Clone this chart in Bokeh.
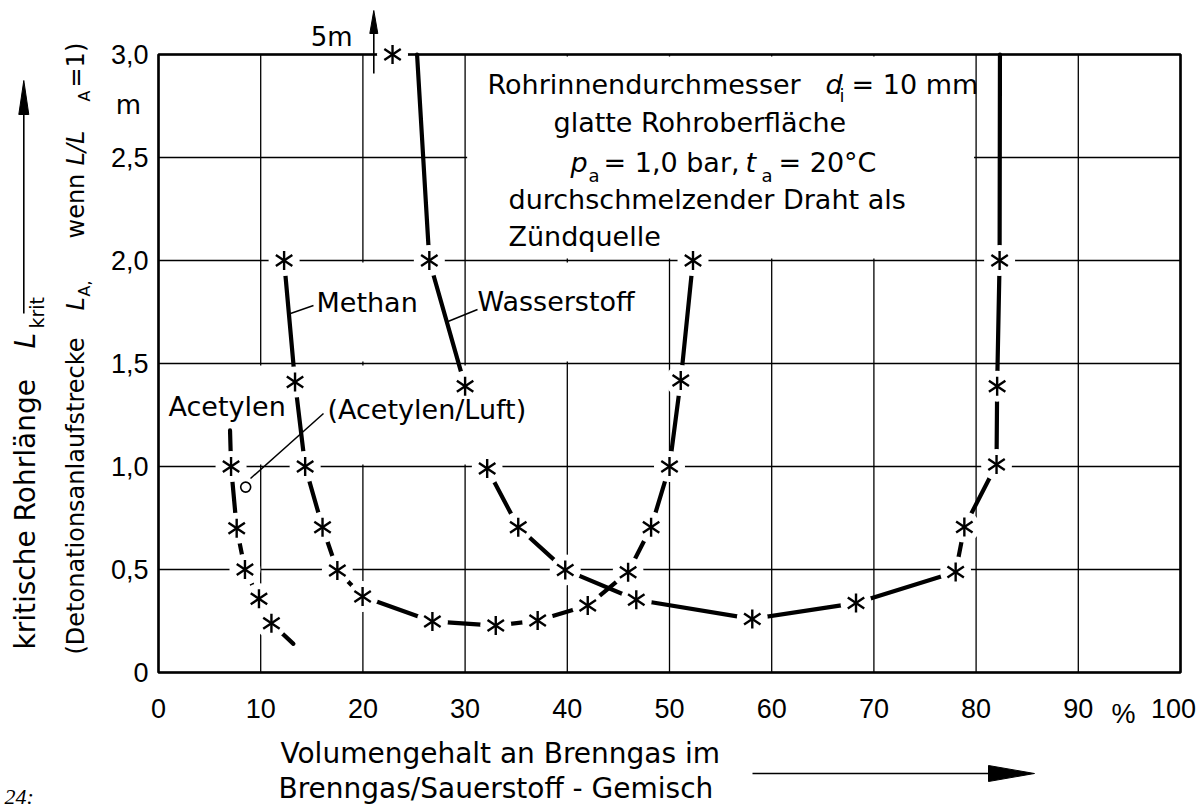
import numpy as np
from bokeh.plotting import figure
from bokeh.models import Range1d
from bokeh.embed import file_html
from bokeh.resources import INLINE

# ---------------- data ----------------
x_ticks = [0, 10, 20, 30, 40, 50, 60, 70, 80, 90, 100]
x_tick_labels = ["0", "10", "20", "30", "40", "50", "60", "70", "80", "90", "100"]
y_ticks = [0, 0.5, 1.0, 1.5, 2.0, 2.5, 3.0]
y_tick_labels = ["0", "0,5", "1,0", "1,5", "2,0", "2,5", "3,0"]

acetylen_x = [7.0, 7.1, 7.65, 8.46, 9.83, 11.05, 13.2]
acetylen_y = [1.175, 1.0, 0.70, 0.50, 0.358, 0.239, 0.139]
acetylen_star = [False, True, True, True, True, True, False]

acetylen_luft_x = [8.53]
acetylen_luft_y = [0.90]

methan_x = [12.29, 13.36, 14.35, 16.05, 17.5, 19.97, 26.8, 33.0, 37.1, 42.0, 45.95, 48.2, 50.0, 51.1, 52.3]
methan_y = [2.0, 1.41, 1.0, 0.705, 0.495, 0.369, 0.248, 0.228, 0.252, 0.325, 0.487, 0.705, 1.0, 1.417, 2.0]
methan_star = [True] * len(methan_x)

wasserstoff_x = [22.9, 26.5, 30.0, 32.16, 35.2, 39.8, 46.75, 58.1, 68.25, 78.0, 78.85, 82.0, 82.06, 82.3, 82.4]
wasserstoff_y = [5.0, 2.0, 1.39, 0.99, 0.705, 0.498, 0.353, 0.26, 0.337, 0.488, 0.706, 1.01, 1.39, 2.0, 5.0]
wasserstoff_star = [True] * 14 + [False]
wasserstoff_no_line_after = [2]

# ---------------- layout ----------------
W, H = 1199, 810
XMIN, XMAX, YMIN, YMAX = 0, 100, 0, 3.0
# chart frame position on the page (pixels)
PX0, PX1, PY0, PY1 = 158, 1180, 672, 54
FONT = "DejaVu Sans"
TICK_FONT = "Liberation Sans"
BASE_FIX = 0.39  # measured offset of the rendered alphabetic baseline (fraction of size)


def dx(px):
    return XMIN + (px - PX0) * (XMAX - XMIN) / (PX1 - PX0)


def dy(py):
    return YMIN + (PY0 - py) * (YMAX - YMIN) / (PY0 - PY1)


p = figure(width=W, height=H, x_range=Range1d(dx(0), dx(W)), y_range=Range1d(dy(H), dy(0)),
           output_backend="svg", toolbar_location=None, title=None,
           x_axis_location=None, y_axis_location=None,
           min_border=0, min_border_left=0, min_border_right=0,
           min_border_top=0, min_border_bottom=0)
p.background_fill_color = "white"
p.border_fill_color = "white"
p.outline_line_color = None
p.grid.visible = False

# grid from the tick arrays
p.segment(x0=x_ticks, y0=[YMIN] * len(x_ticks), x1=x_ticks, y1=[YMAX] * len(x_ticks),
          line_color="black", line_width=1.3)
p.segment(x0=[XMIN] * len(y_ticks), y0=y_ticks, x1=[XMAX] * len(y_ticks), y1=y_ticks,
          line_color="black", line_width=1.3)
# frame
p.quad(left=[XMIN], right=[XMAX], bottom=[YMIN], top=[YMAX], fill_color=None,
       line_color="black", line_width=2.6)

# white masks (text box, label cells)
ex, ey = 0.2, 0.01
masks = [(30, 80, 2.0, 3.0), (0, 40, 1.0, 1.5), (10, 30, 1.5, 2.0), (30, 50, 1.5, 2.0)]
p.quad(left=[m[0] + ex for m in masks], right=[m[1] - ex for m in masks],
       bottom=[m[2] + ey for m in masks], top=[m[3] - ey for m in masks],
       fill_color="white", line_color=None)

# tick labels
x_label_shift = [0] * (len(x_ticks) - 1) + [-7]   # keep the last label inside the page
p.text(x=x_ticks, y=[dy(698)] * len(x_ticks), text=x_tick_labels, x_offset=x_label_shift,
       text_align="center", text_baseline="top", text_font={"value": TICK_FONT},
       text_font_size={"value": "27px"}, text_color="black")
p.text(x=[dx(148)] * len(y_ticks), y=y_ticks, text=y_tick_labels, text_align="right",
       text_baseline="middle", text_font={"value": TICK_FONT}, text_font_size={"value": "27px"},
       text_color="black")

series = [
    (acetylen_x, acetylen_y, acetylen_star, []),
    (methan_x, methan_y, methan_star, []),
    (wasserstoff_x, wasserstoff_y, wasserstoff_star, wasserstoff_no_line_after),
]


def clip_to_frame(xa, ya, xb, yb):
    """Cut a segment at the upper frame edge (values beyond the scale)."""
    if ya > YMAX and yb > YMAX:
        return None
    if ya > YMAX:
        t = (YMAX - yb) / (ya - yb)
        xa, ya = xb + t * (xa - xb), YMAX
    if yb > YMAX:
        t = (YMAX - ya) / (yb - ya)
        xb, yb = xa + t * (xb - xa), YMAX
    return xa, ya, xb, yb


for xs, ys, st, skip in series:
    segs = []
    for i in range(len(xs) - 1):
        if i in skip:
            continue
        c = clip_to_frame(xs[i], ys[i], xs[i + 1], ys[i + 1])
        if c is not None:
            segs.append(c)
    p.segment(x0=[s[0] for s in segs], y0=[s[1] for s in segs],
              x1=[s[2] for s in segs], y1=[s[3] for s in segs],
              line_color="black", line_width=4.2, line_cap="round")

for xs, ys, st, skip in series:
    sx = [x for x, s in zip(xs, st) if s]
    sy = [min(y, YMAX) for y, s in zip(ys, st) if s]
    p.scatter(sx, sy, marker="circle", size=31, fill_color="white", line_color=None)

for xs, ys, st, skip in series:
    sx = [x for x, s in zip(xs, st) if s]
    sy = [min(y, YMAX) for y, s in zip(ys, st) if s]
    for ang in (0, np.pi):
        p.scatter(sx, sy, marker="y", size=19, angle=ang, line_color="black",
                  line_width=2.4, fill_color=None)

p.scatter(acetylen_luft_x, acetylen_luft_y, marker="circle", size=10,
          fill_color="white", line_color="black", line_width=1.6)

# leader lines
leaders = [((290, 313), (313, 305)), ((445, 322), (477, 309)), ((250, 478), (323, 413))]
for (a, b) in leaders:
    p.line([dx(a[0]), dx(b[0])], [dy(a[1]), dy(b[1])], line_color="black", line_width=1.5)

# arrows (shafts and heads)
shafts = [((23.3, 313), (23.3, 108)), ((752, 773), (995, 773)), ((373.3, 73), (373.3, 28))]
for (a, b) in shafts:
    p.line([dx(a[0]), dx(b[0])], [dy(a[1]), dy(b[1])], line_color="black", line_width=1.6)
heads = [[(23.3, 80), (18.3, 114), (28.3, 114)],
         [(1034, 773), (988, 765), (988, 781)],
         [(373.3, 10), (369.3, 33), (377.3, 33)]]
p.patches(xs=[[dx(q[0]) for q in h] for h in heads], ys=[[dy(q[1]) for q in h] for h in heads],
          fill_color="black", line_color="black", line_width=1)


def lab(text, px, py, size=27, align="left", baseline="alphabetic", style="normal",
        angle=0.0, font=FONT):
    if baseline == "alphabetic":
        if angle:
            px = px - BASE_FIX * size
        else:
            py = py - BASE_FIX * size
    p.text(x=[dx(px)], y=[dy(py)], text=[text], text_font={"value": font},
           text_font_size={"value": f"{size}px"}, text_align=align,
           text_baseline=baseline, text_font_style=style, angle=angle, text_color="black")


# info box
lab("Rohrinnendurchmesser", 487, 95)
lab("d", 825, 95, style="italic")
lab("i", 839, 102, size=18)
lab("= 10 mm", 851, 95)
lab("glatte Rohroberfläche", 553, 133)
lab("p", 570, 173, style="italic")
lab("a", 588, 182, size=18)
lab("= 1,0 bar,", 603, 173)
lab("t", 745, 173, style="italic")
lab("a", 761, 182, size=18)
lab("= 20°C", 778, 173)
lab("durchschmelzender Draht als", 508, 210)
lab("Zündquelle", 508, 247)

# curve labels
lab("Acetylen", 168, 417)
lab("(Acetylen/Luft)", 327, 420)
lab("Methan", 316, 313)
lab("Wasserstoff", 477, 312)
lab("5m", 352, 47, size=26, align="right")

# axis extras
lab("m", 128, 104, size=26, align="center", baseline="middle")
lab("%", 1123, 698, size=27, align="center", baseline="top", font=TICK_FONT)
lab("Volumengehalt an Brenngas im", 280, 764, size=28)
lab("Brenngas/Sauerstoff - Gemisch", 278, 799, size=28)
lab("24:", 4, 805, size=22, style="italic", font="Liberation Serif")

# rotated y titles
R = np.pi / 2
lab("kritische Rohrlänge", 36, 649, size=28, angle=R)
lab("L", 36, 348, size=28, angle=R, style="italic")
lab("krit", 44, 328, size=19, angle=R)
lab("(Detonationsanlaufstrecke", 85, 654, size=24, angle=R)
lab("L", 85, 310, size=24, angle=R, style="italic")
lab("A,", 90, 296, size=16, angle=R)
lab("wenn", 85, 238, size=24, angle=R)
lab("L/L", 85, 165, size=24, angle=R, style="italic")
lab("A", 90, 101, size=16, angle=R)
lab("=1)", 85, 87, size=24, angle=R)

open("out.html", "w").write(file_html(p, INLINE))
